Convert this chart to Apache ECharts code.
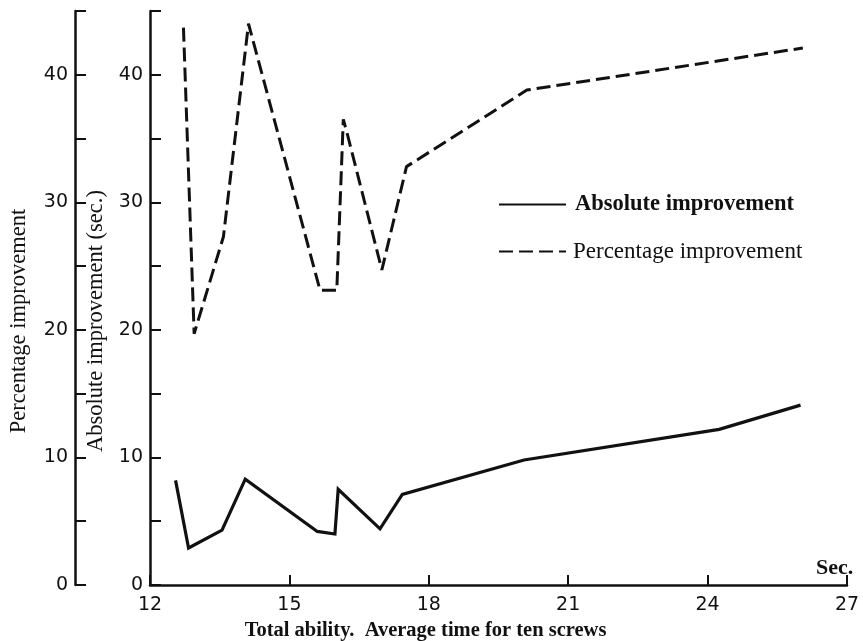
<!DOCTYPE html>
<html>
<head>
<meta charset="utf-8">
<script src="https://cdn.jsdelivr.net/npm/echarts@6/dist/echarts.min.js"></script>
<style>
html,body{margin:0;padding:0;background:#fff;}
#chart{width:863px;height:641px;}
</style>
</head>
<body>
<div id="chart"></div>
<script>
// Absolute improvement (sec.) — solid line
const absX = [12.55, 12.83, 13.55, 14.05, 15.6, 15.98, 16.05, 16.95, 17.43, 20.05, 24.25, 26.0];
const absY = [8.2, 2.9, 4.3, 8.3, 4.2, 4.0, 7.5, 4.4, 7.1, 9.8, 12.2, 14.1];
// Percentage improvement — dashed line
const pctX = [12.72, 12.95, 13.58, 14.12, 15.66, 16.02, 16.16, 16.25, 16.99, 17.52, 20.11, 26.05];
const pctY = [43.7, 19.7, 27.3, 44.0, 23.1, 23.1, 36.5, 35.3, 24.7, 32.8, 38.8, 42.1];
// tick labels
const xTicks = [12, 15, 18, 21, 24, 27];
const yTicks = [0, 10, 20, 30, 40];

const serif = '"Liberation Serif", "DejaVu Serif", serif';
const sans = '"DejaVu Sans", sans-serif';
const ink = '#111';

const pairs = (xs, ys) => xs.map((x, i) => [x, ys[i]]);
const yFmt = v => (yTicks.indexOf(v) >= 0 ? String(v) : '');
const xFmt = v => (xTicks.indexOf(v) >= 0 ? String(v) : '');

const yAxisBase = {
  type: 'value', min: 0, max: 45, interval: 5,
  splitLine: {show: false},
  axisLine: {show: true, lineStyle: {color: ink, width: 2.5}},
  axisTick: {show: true, inside: true, length: 11, lineStyle: {color: ink, width: 2}},
  axisLabel: {formatter: yFmt, color: ink, fontFamily: sans, fontSize: 19, margin: 7},
  nameLocation: 'middle',
  nameTextStyle: {fontFamily: serif, fontSize: 22.5, color: ink, padding: [0, 46, 0, 0]}
};

const chart = echarts.init(document.getElementById('chart'), null, {renderer: 'canvas'});
chart.setOption({
  backgroundColor: '#fff',
  animation: false,
  grid: {left: 150, right: 16, top: 11, bottom: 56, containLabel: false, outerBoundsMode: 'none'},
  xAxis: {
    type: 'value', min: 12, max: 27, interval: 3,
    splitLine: {show: false},
    axisLine: {show: true, lineStyle: {color: ink, width: 2.5}},
    axisTick: {show: true, inside: true, length: 10, lineStyle: {color: ink, width: 2}},
    axisLabel: {formatter: xFmt, color: ink, fontFamily: sans, fontSize: 19, margin: 11},
    name: 'Total ability.  Average time for ten screws',
    nameLocation: 'middle', nameGap: 35,
    nameTextStyle: {fontFamily: serif, fontSize: 20.5, fontWeight: 'bold', color: ink, padding: [0, 146, 0, 0]}
  },
  yAxis: [
    Object.assign({}, yAxisBase, {position: 'left', offset: 0, name: 'Absolute improvement (sec.)', nameGap: 42}),
    Object.assign({}, yAxisBase, {position: 'left', offset: 75, name: 'Percentage improvement', nameGap: 44})
  ],
  legend: {
    orient: 'vertical', left: 493, top: 188,
    itemWidth: 67, itemHeight: 14, itemGap: 24,
    data: ['Absolute improvement', 'Percentage improvement'],
    itemStyle: {opacity: 0},
    formatter: n => n === 'Absolute improvement' ? '{b|' + n + '}' : '{r|' + n + '}',
    textStyle: {
      color: ink, fontFamily: serif, fontSize: 22.5,
      rich: {
        b: {fontFamily: serif, fontSize: 22.5, fontWeight: 'bold', color: ink, padding: [0, 0, 0, 4]},
        r: {fontFamily: serif, fontSize: 23, color: ink, padding: [0, 0, 0, 2]}
      }
    }
  },
  graphic: [
    {type: 'text', left: 816, top: 557, style: {text: 'Sec.', font: 'bold 22px ' + serif, fill: ink}}
  ],
  series: [
    {
      name: 'Absolute improvement', type: 'line', yAxisIndex: 0,
      data: pairs(absX, absY), symbol: 'none',
      lineStyle: {color: ink, width: 3.2, type: 'solid', join: 'miter'},
      itemStyle: {color: ink}
    },
    {
      name: 'Percentage improvement', type: 'line', yAxisIndex: 1,
      data: pairs(pctX, pctY), symbol: 'none',
      lineStyle: {color: ink, width: 3, type: [14, 6]},
      itemStyle: {color: ink}
    }
  ]
});
</script>
</body>
</html>
